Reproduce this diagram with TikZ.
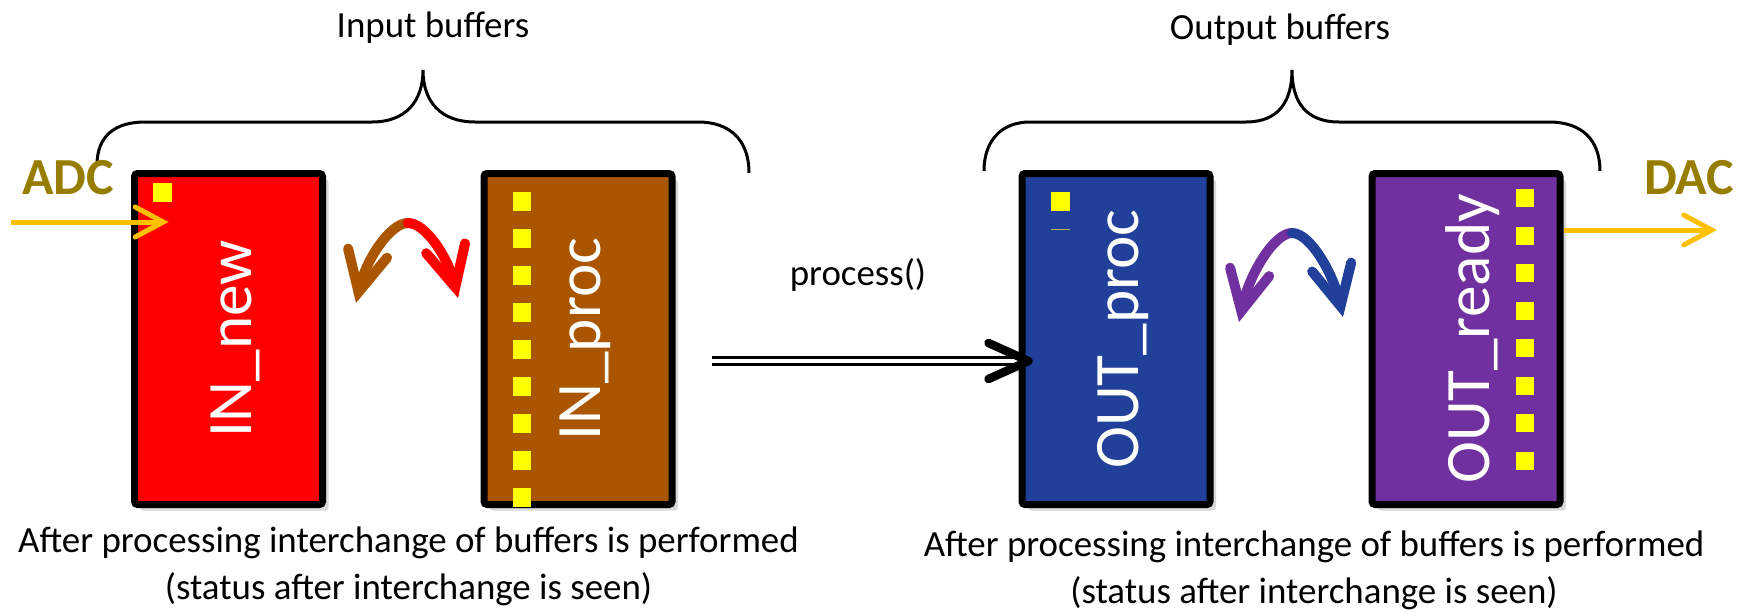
\documentclass[tikz,border=0pt]{standalone}
\usepackage{fontspec}
\setmainfont{Carlito}
\usetikzlibrary{arrows.meta,shadows,calc}
\definecolor{adcgold}{RGB}{150,125,0}
\definecolor{wiregold}{RGB}{255,192,0}
\definecolor{inred}{RGB}{255,0,0}
\definecolor{inbrown}{RGB}{170,85,0}
\definecolor{outblue}{RGB}{33,64,154}
\definecolor{outpurple}{RGB}{112,48,160}
\definecolor{slotyellow}{RGB}{255,255,0}
\begin{document}
\begin{tikzpicture}[
buffer/.style={draw=black,line width=0.07cm,rounded corners=0.03cm,minimum width=1.88cm,minimum height=3.31cm,inner sep=0,drop shadow={opacity=0.3,shadow xshift=0.06cm,shadow yshift=-0.06cm}},
bufname/.style={rotate=90,text=white,inner sep=0,font=\fontsize{18}{20}\selectfont},
slot/.style={fill=slotyellow},
brace/.style={line width=0.03cm},
note/.style={font=\fontsize{10.5}{13}\selectfont},
caption/.style={align=center,font=\fontsize{10.5}{13.4}\selectfont},
converter/.style={text=adcgold,font=\fontsize{14.8}{16}\selectfont\bfseries},
wire/.style={wiregold,line width=0.05cm,-{Straight Barb[length=0.28cm,width=0.3cm,line cap=round]}},
exchange/.style={line width=0.1cm,line cap=round,-{Straight Barb[length=0.4cm,width=0.4cm,line cap=round]}},
procline/.style={double=white,double distance=0.04cm,line width=0.033cm},
prochead/.style={line width=0.085cm,line cap=round,line join=round},
]
\useasboundingbox(0,0)rectangle(17.48,-6.12);

%buffers
\node[buffer,fill=inred](innew)at(2.285,-3.39){};
\node[buffer,fill=inbrown](inproc)at(5.78,-3.39){};
\node[buffer,fill=outblue](outp)at(11.16,-3.39){};
\node[buffer,fill=outpurple](outr)at(14.66,-3.39){};

%samples
\fill[slot](1.53,-1.83)rectangle(1.72,-2.02);

\fill[slot](5.13,-1.915)rectangle(5.31,-2.105);
\fill[slot](5.13,-2.286)rectangle(5.31,-2.476);
\fill[slot](5.13,-2.657)rectangle(5.31,-2.847);
\fill[slot](5.13,-3.028)rectangle(5.31,-3.218);
\fill[slot](5.13,-3.399)rectangle(5.31,-3.589);
\fill[slot](5.13,-3.770)rectangle(5.31,-3.960);
\fill[slot](5.13,-4.141)rectangle(5.31,-4.331);
\fill[slot](5.13,-4.512)rectangle(5.31,-4.702);
\fill[slot](5.13,-4.883)rectangle(5.31,-5.073);

\fill[slot](10.51,-1.92)rectangle(10.70,-2.11);
\draw[olive!60,line width=0.01cm](10.51,-2.29)--(10.70,-2.29);

\fill[slot](15.16,-1.890)rectangle(15.34,-2.070);
\fill[slot](15.16,-2.265)rectangle(15.34,-2.445);
\fill[slot](15.16,-2.640)rectangle(15.34,-2.820);
\fill[slot](15.16,-3.015)rectangle(15.34,-3.195);
\fill[slot](15.16,-3.390)rectangle(15.34,-3.570);
\fill[slot](15.16,-3.765)rectangle(15.34,-3.945);
\fill[slot](15.16,-4.140)rectangle(15.34,-4.320);
\fill[slot](15.16,-4.515)rectangle(15.34,-4.695);

%names
\node[bufname](innewname)at([xshift=0.07cm]innew.center){IN\_new};
\node[bufname](inprocname)at([xshift=0.07cm]inproc.center){IN\_proc};
\node[bufname](outpname)at([xshift=0.07cm]outp.center){OUT\_proc};
\node[bufname](outrname)at([xshift=0.07cm]outr.center){OUT\_ready};

%braces
\draw[brace](0.97,-1.65)..controls(0.97,-1.36)and(1.15,-1.22)..(1.45,-1.22)--(3.72,-1.22)..controls(4.05,-1.22)and(4.23,-1.02)..(4.23,-0.70)..controls(4.23,-1.02)and(4.41,-1.22)..(4.75,-1.22)--(6.98,-1.22)..controls(7.30,-1.22)and(7.49,-1.40)..(7.49,-1.73);
\node[note](inlabel)at(4.33,-0.28){Input buffers};

\draw[brace](9.84,-1.71)..controls(9.84,-1.40)and(10.02,-1.22)..(10.30,-1.22)--(12.46,-1.22)..controls(12.78,-1.22)and(12.92,-1.02)..(12.92,-0.70)..controls(12.92,-1.02)and(13.06,-1.22)..(13.39,-1.22)--(15.49,-1.22)..controls(15.82,-1.22)and(16.00,-1.40)..(16.00,-1.71);
\node[note](outlabel)at(12.80,-0.30){Output buffers};

%converters
\node[converter](adc)at(0.68,-1.78){ADC};
\coordinate(adcfrom)at(0.11,-2.22);
\draw[wire,shorten >=-0.375cm](adcfrom)--(adcfrom-|innew.west);

\node[converter](dac)at(16.89,-1.78){DAC};
\coordinate(dacto)at(17.17,-2.30);
\draw[wire](dacto-|outr.east)--(dacto);

%exchange
\coordinate(inswap)at(4.08,-2.23);
\coordinate(innewend)at(3.56,-3.03);
\coordinate(inprocend)at(4.58,-2.98);
\draw[exchange,inbrown](inswap)..controls(3.90,-2.23)and(3.66,-2.60)..(innewend);
\draw[exchange,inred](inswap)..controls(4.26,-2.23)and(4.48,-2.58)..(inprocend);

\coordinate(outswap)at(12.92,-2.33);
\coordinate(outpend)at(12.39,-3.22);
\coordinate(outrend)at(13.43,-3.17);
\draw[exchange,outpurple](outswap)..controls(12.74,-2.33)and(12.49,-2.75)..(outpend);
\draw[exchange,outblue](outswap)..controls(13.10,-2.33)and(13.33,-2.73)..(outrend);

%process
\node[note](proc)at(8.58,-2.75){process()};
\coordinate(procfrom)at(7.12,-3.61);
\coordinate(procto)at($(procfrom-|outp.west)+(0.1,0)$);
\draw[procline](procfrom)--($(procto)+(-0.05,0)$);
\draw[prochead]($(procto)+(-0.40,0.18)$)--(procto)--($(procto)+(-0.40,-0.18)$);

%captions
\node[caption](incap)at(4.085,-5.665){After processing interchange of buffers is performed\\(status after interchange is seen)};
\node[caption](outcap)at(13.14,-5.70){After processing interchange of buffers is performed\\(status after interchange is seen)};

\end{tikzpicture}
\end{document}
